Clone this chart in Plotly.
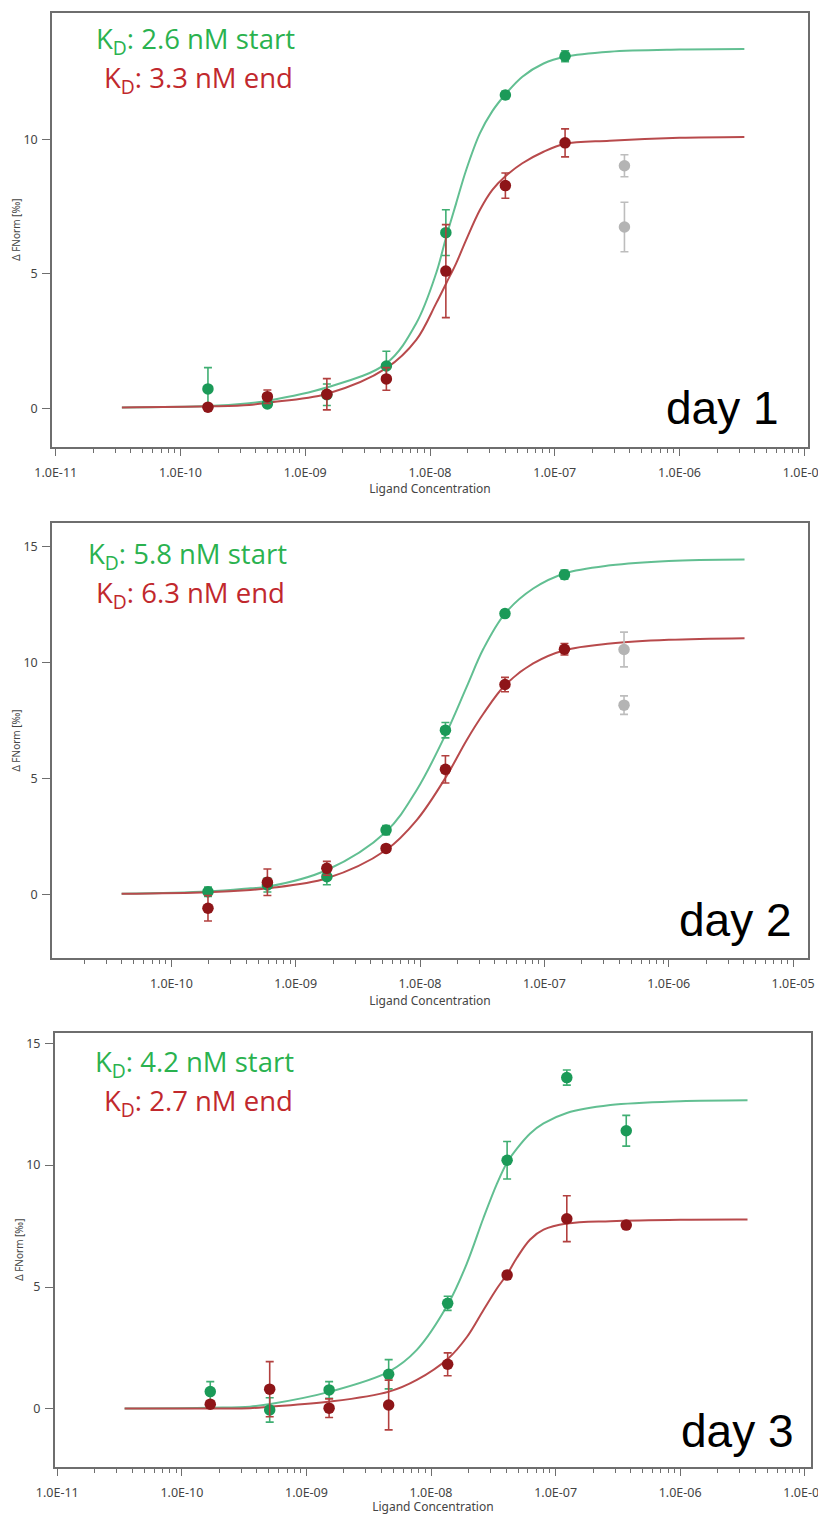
import plotly.graph_objects as go

W, H = 818, 1515

# ---------------- data ----------------
# Day 1
p1_conc = [1.66e-10, 4.97e-10, 1.49e-9, 4.47e-9, 1.34e-8, 4.02e-8, 1.21e-7, 3.62e-7]
p1_start = [0.72, 0.16, 0.50, 1.57, 6.53, 11.65, 13.09]
p1_start_err = [0.79, 0.12, 0.40, 0.55, 0.85, 0.15, 0.20]
p1_end = [0.04, 0.43, 0.52, 1.09, 5.10, 8.28, 9.87]
p1_end_err = [0.10, 0.25, 0.58, 0.42, 1.73, 0.47, 0.52]
p1_excl = [9.02, 6.74]
p1_excl_err = [0.41, 0.92]
p1_fit_conc = [3.39e-11, 1.66e-10, 3.55e-10, 5.01e-10, 1.48e-9, 4.47e-9, 7.76e-9, 1.12e-8,
               1.35e-8, 1.62e-8, 1.95e-8, 2.51e-8, 3.16e-8, 3.98e-8, 5.50e-8, 8.13e-8,
               1.20e-7, 2.75e-7, 1.00e-6, 3.31e-6]
p1_fit_start = [0.03, 0.08, 0.19, 0.28, 0.77, 1.67, 3.16, 5.02, 6.38, 7.62, 8.86, 10.22,
                11.05, 11.65, 12.33, 12.82, 13.07, 13.26, 13.34, 13.36]
p1_fit_end = [0.03, 0.07, 0.12, 0.21, 0.53, 1.49, 2.54, 3.90, 4.65, 5.39, 6.26, 7.37,
              8.12, 8.61, 9.11, 9.54, 9.83, 9.95, 10.06, 10.09]

# Day 2
p2_conc = [1.97e-10, 5.92e-10, 1.78e-9, 5.33e-9, 1.60e-8, 4.82e-8, 1.45e-7, 4.37e-7]
p2_start = [0.11, 0.40, 0.76, 2.77, 7.08, 12.11, 13.79]
p2_start_err = [0.20, 0.30, 0.35, 0.20, 0.33, 0.15, 0.20]
p2_end = [-0.60, 0.52, 1.12, 1.98, 5.39, 9.05, 10.57]
p2_end_err = [0.55, 0.57, 0.30, 0.15, 0.59, 0.31, 0.25]
p2_excl = [10.56, 8.16]
p2_excl_err = [0.75, 0.40]
p2_fit_conc = [3.98e-11, 1.95e-10, 4.32e-10, 5.94e-10, 1.78e-9, 5.33e-9, 9.40e-9, 1.62e-8,
               2.37e-8, 3.24e-8, 4.82e-8, 8.13e-8, 1.45e-7, 3.39e-7, 1.00e-6, 4.07e-6]
p2_fit_start = [0.02, 0.12, 0.26, 0.33, 1.05, 2.70, 4.50, 6.94, 8.95, 10.60, 12.11, 13.19,
                13.84, 14.19, 14.38, 14.44]
p2_fit_end = [0.02, 0.09, 0.19, 0.26, 0.69, 1.91, 3.20, 5.07, 6.65, 7.80, 9.02, 9.96,
              10.53, 10.82, 10.98, 11.05]

# Day 3
p3_conc = [1.69e-10, 5.07e-10, 1.52e-9, 4.57e-9, 1.36e-8, 4.08e-8, 1.23e-7, 3.69e-7]
p3_start = [0.71, -0.04, 0.78, 1.42, 4.33, 10.20, 13.59, 11.41]
p3_start_err = [0.41, 0.50, 0.34, 0.60, 0.29, 0.77, 0.31, 0.63]
p3_end = [0.19, 0.81, 0.03, 0.16, 1.83, 5.49, 7.80, 7.54]
p3_end_err = [0.15, 1.13, 0.38, 1.02, 0.47, 0.15, 0.94, 0.10]
p3_fit_conc = [3.47e-11, 1.70e-10, 3.52e-10, 5.13e-10, 1.55e-9, 4.60e-9, 7.69e-9, 1.38e-8,
               1.94e-8, 2.63e-8, 3.39e-8, 4.11e-8, 4.89e-8, 6.25e-8, 8.00e-8, 1.23e-7,
               2.75e-7, 1.00e-6, 3.47e-6]
p3_fit_start = [0.02, 0.05, 0.09, 0.20, 0.71, 1.53, 2.42, 4.33, 5.97, 7.82, 9.25, 10.14,
                10.68, 11.30, 11.71, 12.14, 12.46, 12.62, 12.66]
p3_fit_end = [0.02, 0.02, 0.03, 0.09, 0.30, 0.71, 1.19, 2.08, 2.95, 4.05, 4.95, 5.55,
              6.20, 6.95, 7.35, 7.60, 7.70, 7.76, 7.77]

kd_start = ["2.6", "5.8", "4.2"]
kd_end = ["3.3", "6.3", "2.7"]
day_labels = ["day 1", "day 2", "day 3"]

x_tick_vals = [1e-11, 1e-10, 1e-9, 1e-8, 1e-7, 1e-6, 1e-5]
x_tick_text = ["1.0E-11", "1.0E-10", "1.0E-09", "1.0E-08", "1.0E-07", "1.0E-06", "1.0E-05"]

# ---------------- style ----------------
GREEN_M = "#1b9a58"
GREEN_L = "#62bf92"
GREEN_E = "#3fae72"
GREEN_T = "#2ab24f"
RED_M = "#8e1518"
RED_L = "#b84a4c"
RED_E = "#b2403f"
RED_T = "#c1282d"
GREY_M = "#b4b4b4"
AX = "#6e6e6e"
TICKF = dict(family="Noto Sans, Open Sans, sans-serif", size=12.5, color="#444444")


def px_x(v):
    return v / W


def px_y(v):
    return 1 - v / H


panels = [
    dict(conc=p1_conc, s=p1_start, se=p1_start_err, e=p1_end, ee=p1_end_err,
         xe=p1_excl, xee=p1_excl_err, fc=p1_fit_conc, fs=p1_fit_start, fe=p1_fit_end,
         xdom=(52, 808), ydom=(12.7, 446.7), xr=(-11.03, -4.97), yr=(-1.43, 14.71),
         kd1=(297, 41), kd2=(295, 79), day=(781, 408)),
    dict(conc=p2_conc, s=p2_start, se=p2_start_err, e=p2_end, ee=p2_end_err,
         xe=p2_excl, xee=p2_excl_err, fc=p2_fit_conc, fs=p2_fit_start, fe=p2_fit_end,
         xdom=(52, 808), ydom=(522.7, 958.3), xr=(-10.96, -4.88), yr=(-2.76, 16.03),
         kd1=(289, 556), kd2=(287, 594.5), day=(794, 920)),
    dict(conc=p3_conc, s=p3_start, se=p3_start_err, e=p3_end, ee=p3_end_err,
         xe=None, xee=None, fc=p3_fit_conc, fs=p3_fit_start, fe=p3_fit_end,
         xdom=(54.8, 811), ydom=(1032.7, 1466.7), xr=(-11.02, -4.95), yr=(-2.37, 15.43),
         kd1=(296, 1063.5), kd2=(295, 1102), day=(796, 1431)),
]

fig = go.Figure()
annotations = []
layout = {}

for i, p in enumerate(panels):
    n = "" if i == 0 else str(i + 1)
    xa, ya = "x" + n, "y" + n
    nstart = len(p["s"])

    fig.add_trace(go.Scatter(x=p["fc"], y=p["fs"], mode="lines", line_shape="spline",
                             line=dict(color=GREEN_L, width=2), xaxis=xa, yaxis=ya,
                             hoverinfo="skip", showlegend=False))
    fig.add_trace(go.Scatter(x=p["fc"], y=p["fe"], mode="lines", line_shape="spline",
                             line=dict(color=RED_L, width=2), xaxis=xa, yaxis=ya,
                             hoverinfo="skip", showlegend=False))
    if p["xe"] is not None:
        fig.add_trace(go.Scatter(x=[p["conc"][-1]] * len(p["xe"]), y=p["xe"], mode="markers",
                                 marker=dict(color=GREY_M, size=11.5),
                                 error_y=dict(type="data", array=p["xee"], color="#bdbdbd",
                                              thickness=1.6, width=4),
                                 xaxis=xa, yaxis=ya, showlegend=False))
    fig.add_trace(go.Scatter(x=p["conc"][:nstart], y=p["s"], mode="markers",
                             marker=dict(color=GREEN_M, size=11.5),
                             error_y=dict(type="data", array=p["se"], color=GREEN_E,
                                          thickness=1.6, width=4),
                             xaxis=xa, yaxis=ya, showlegend=False))
    fig.add_trace(go.Scatter(x=p["conc"][:len(p["e"])], y=p["e"], mode="markers",
                             marker=dict(color=RED_M, size=11.5),
                             error_y=dict(type="data", array=p["ee"], color=RED_E,
                                          thickness=1.6, width=4),
                             xaxis=xa, yaxis=ya, showlegend=False))

    layout["xaxis" + n] = dict(
        type="log", range=list(p["xr"]), domain=[px_x(p["xdom"][0]), px_x(p["xdom"][1])],
        anchor=ya, tickmode="array", tickvals=x_tick_vals, ticktext=x_tick_text,
        ticks="outside", ticklen=7, tickwidth=1.3, tickcolor=AX,
        minor=dict(ticks="outside", ticklen=4, tickwidth=1.2, tickcolor=AX,
                   tickmode="linear", dtick="D1", showgrid=False),
        showline=True, linecolor=AX, linewidth=1.6, mirror=True,
        showgrid=False, zeroline=False, tickfont=TICKF, ticklabelstandoff=6,
        ticklabeloverflow="allow",
        title=dict(text="Ligand Concentration", standoff=4,
                   font=dict(family="Noto Sans, Open Sans, sans-serif", size=12, color="#444444")),
        automargin=False,
    )
    layout["yaxis" + n] = dict(
        range=list(p["yr"]), domain=[px_y(p["ydom"][1]), px_y(p["ydom"][0])],
        anchor=xa, tickmode="linear", tick0=0, dtick=5,
        ticks="outside", ticklen=8, tickwidth=1.3, tickcolor=AX,
        showline=True, linecolor=AX, linewidth=1.6, mirror=True,
        showgrid=False, zeroline=False, tickfont=TICKF, ticklabelstandoff=2,
        title=dict(text="Δ FNorm [‰]", standoff=1,
                   font=dict(family="Noto Sans, Open Sans, sans-serif", size=10, color="#444444")),
        automargin=False,
    )

    annotations.append(dict(
        text=f"K<sub>D</sub>: {kd_start[i]} nM start", xref="paper", yref="paper",
        x=px_x(p["kd1"][0]), y=px_y(p["kd1"][1]), xanchor="right", yanchor="middle",
        showarrow=False, font=dict(family="Open Sans, Noto Sans, sans-serif", size=27.5, color=GREEN_T)))
    annotations.append(dict(
        text=f"K<sub>D</sub>: {kd_end[i]} nM end", xref="paper", yref="paper",
        x=px_x(p["kd2"][0]), y=px_y(p["kd2"][1]), xanchor="right", yanchor="middle",
        showarrow=False, font=dict(family="Open Sans, Noto Sans, sans-serif", size=27.5, color=RED_T)))
    annotations.append(dict(
        text=day_labels[i], xref="paper", yref="paper",
        x=px_x(p["day"][0]), y=px_y(p["day"][1]), xanchor="right", yanchor="middle",
        showarrow=False, font=dict(family="Liberation Sans, Arial, sans-serif", size=46, color="#000000")))

fig.update_layout(
    width=W, height=H, margin=dict(l=0, r=0, t=0, b=0),
    paper_bgcolor="white", plot_bgcolor="white",
    annotations=annotations, showlegend=False, **layout,
)

fig.write_html("out.html")
